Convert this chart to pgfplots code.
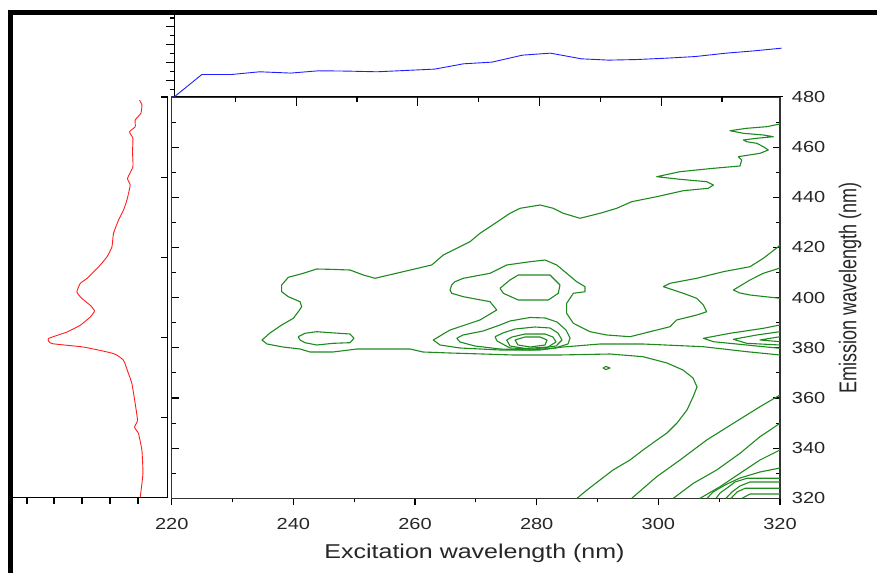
\documentclass[border=0pt]{standalone}
\usepackage{pgfplots}
\pgfplotsset{compat=1.18}
\usepackage{graphicx}
\usepackage{fontspec}
\setmainfont{Liberation Sans}
\definecolor{cg}{RGB}{30,138,30}
\definecolor{cb}{RGB}{30,30,255}
\definecolor{cr}{RGB}{255,30,30}
\newcommand{\sx}[1]{\scalebox{1.25}[1]{#1}}
\pgfplotsset{cl/.style={cg, line width=1.1pt, mark=none, solid, line join=round}}
\begin{document}
\begin{tikzpicture}
% ---------------- main contour axis ----------------
\begin{axis}[
  at={(171.7pt,74.7pt)}, anchor=south west,
  scale only axis, width=608.3pt, height=401.3pt,
  xmin=220, xmax=320, ymin=320, ymax=480,
  axis line style={line width=1.4pt, black!80},
  xtick={220,240,...,320}, minor xtick={230,250,...,310},
  xticklabels={\sx{220},\sx{240},\sx{260},\sx{280},\sx{300},\sx{320}},
  ytick={320,340,...,480}, minor ytick={330,350,...,470},
  yticklabels={\sx{320},\sx{340},\sx{360},\sx{380},\sx{400},\sx{420},\sx{440},\sx{460},\sx{480}},
  xtick pos=left, ytick pos=both, yticklabel pos=right,
  xtick align=outside, ytick align=inside,
  major tick length=7pt, minor tick length=4pt,
  tick style={black, line width=1.1pt},
  xticklabel style={font=\fontsize{16}{16}\selectfont, text=black!85, anchor=north, inner sep=0pt, yshift=-13.2pt},
  yticklabel style={font=\fontsize{16}{16}\selectfont, text=black!85, anchor=west, inner sep=0pt, xshift=11.7pt},
  xlabel={\sx{Excitation wavelength (nm)}},
  xlabel style={font=\fontsize{20}{20}\selectfont, text=black!85, at={(axis description cs:0.4978,0)}, anchor=base, inner sep=0pt, yshift=-59.7pt},
  ylabel={\scalebox{1}[1.35]{Emission wavelength (nm)}},
  ylabel style={font=\fontsize{18}{18}\selectfont, text=black!85, at={(axis description cs:1.115,0.525)}, anchor=center, inner sep=0pt},
]
% level 1 (outer)
\addplot[cl] coordinates {(286.63,320.00) (288.27,323.31) (290.41,327.30) (292.55,331.28) (295.34,335.27) (297.48,339.26) (299.78,343.25) (301.42,346.04) (303.07,350.02) (304.71,355.21) (305.70,360.39) (306.36,364.38) (305.70,367.97) (304.05,371.15) (301.42,373.95) (297.48,376.46) (292.05,377.53) (283.83,377.14) (276.11,377.14) (271.18,377.53) (265.75,377.93) (261.31,378.33) (259.17,379.53) (250.46,379.53) (246.52,378.33) (242.74,378.33) (241.09,379.53) (238.30,380.32) (235.67,381.52) (234.84,383.12) (236.16,385.91) (238.08,389.10) (239.99,391.77) (240.81,394.40) (241.37,396.39) (241.09,398.39) (239.17,400.38) (238.08,402.37) (238.08,405.04) (239.17,408.11) (241.63,409.71) (243.84,411.42) (246.02,411.30) (249.31,411.02) (251.50,409.03) (253.42,407.72) (256.43,409.43) (259.72,411.30) (262.74,413.02) (264.65,417.01) (266.29,419.00) (269.04,422.31) (270.68,425.66) (272.33,428.29) (275.61,433.63) (277.26,435.62) (280.55,436.94) (282.73,435.62) (284.38,433.63) (287.12,431.64) (290.41,433.63) (293.15,435.62) (295.62,438.26) (299.73,440.25) (304.10,442.64) (308.21,443.60) (309.05,444.91) (307.95,446.23) (303.56,447.19) (299.73,448.22) (303.56,450.22) (309.05,451.57) (313.42,452.49) (313.70,454.88) (313.14,456.20) (316.71,457.55) (318.08,458.87) (317.26,460.18) (316.17,461.54) (314.52,462.18) (313.97,462.86) (316.17,463.53) (318.90,464.17) (317.26,464.85) (313.97,465.53) (311.78,466.56) (314.52,467.52) (317.81,468.16) (320.00,469.24)};
% level 2 (open, right edge to right edge)
\addplot[cl] coordinates {(320,377.14) (314.57,378.45) (307.34,380.45) (297.48,381.52) (290.41,381.52) (284.33,380.32) (280.55,379.13) (273.97,379.13) (267.39,379.93) (264.11,381.12) (263.00,383.12) (265.75,387.10) (270.68,391.09) (273.43,395.08) (272.33,398.39) (267.94,400.38) (266.03,401.74) (265.75,403.05) (266.03,405.04) (266.57,406.36) (267.94,407.72) (272.33,409.71) (275.07,413.02) (278.90,414.33) (281.37,415.01) (283.29,413.02) (284.93,409.71) (286.58,406.36) (287.94,404.37) (287.94,402.37) (286.02,401.74) (284.93,397.75) (284.93,393.76) (286.02,389.78) (288.77,386.43) (291.51,385.11) (295.34,384.43) (298.63,386.43) (301.92,388.42) (303.02,391.09) (306.31,393.08) (307.95,394.40) (307.39,397.07) (306.31,399.74) (304.10,401.74) (300.82,404.37) (301.92,405.72) (306.31,407.72) (310.68,410.35) (315.07,412.34) (317.26,415.69) (319.72,420.31) (320,421.0)};
% level 2 loop at 245 nm
\addplot[cl] coordinates {(240.81,384.43) (241.91,385.79) (243.84,386.43) (246.02,386.03) (249.31,385.51) (249.97,383.79) (249.31,382.04) (246.57,381.80) (243.84,381.12) (241.91,382.04) (241.09,383.12) (240.81,384.43)};
% level 3 loop, 400 nm peak
\addplot[cl] coordinates {(273.97,403.73) (275.61,407.04) (276.98,409.03) (282.19,409.03) (283.83,405.04) (283.55,401.74) (281.91,399.06) (276.98,399.06) (274.51,401.74) (273.97,403.73)};
% nested loops, 380 nm peak
\addplot[cl] coordinates {(266.85,383.79) (267.89,385.11) (271.18,386.70) (273.97,389.10) (275.61,390.69) (278.90,392.09) (281.37,391.89) (283.34,390.29) (284.82,387.10) (285.48,383.91) (285.15,381.52) (283.01,379.93) (278.90,379.13) (273.97,379.53) (269.86,380.72) (267.39,382.32) (266.85,383.79)};
\addplot[cl] coordinates {(273.15,384.43) (274.46,385.91) (276.44,387.50) (279.72,388.30) (282.19,387.90) (283.50,385.91) (284.16,383.12) (283.18,380.72) (279.72,379.53) (275.61,379.93) (273.48,382.72) (273.15,384.43)};
\addplot[cl] coordinates {(275.07,383.12) (275.94,384.31) (278.08,385.51) (281.37,385.51) (282.68,384.31) (283.18,382.32) (281.86,380.32) (278.08,379.73) (275.61,380.72) (275.07,383.12)};
\addplot[cl] coordinates {(276.44,383.12) (278.08,384.31) (280.55,384.31) (281.70,383.12) (281.37,381.12) (278.90,380.32) (276.93,381.12) (276.44,383.12)};
% right wedges
\addplot[cl] coordinates {(320,389.10) (317.26,387.78) (311.78,385.79) (307.39,383.79) (309.05,382.44) (317.26,380.45) (320,379.81)};
\addplot[cl] coordinates {(320,386.43) (316.17,385.11) (312.33,383.39) (314.52,381.80) (320,381.12)};
\addplot[cl] coordinates {(320,384.43) (316.71,383.12) (320,382.44)};
\addplot[cl] coordinates {(320,411.82) (317.26,409.71) (315.07,407.04) (312.33,403.05) (313.42,401.85) (315.07,401.06) (320,399.74)};
% tiny loop
\addplot[cl] coordinates {(290.90,371.95) (291.39,372.55) (292.05,371.95) (291.39,371.35) (290.90,371.95)};
% diagonal lines lower right
\addplot[cl] coordinates {(295.62,320.00) (299.73,328.61) (303.56,335.27) (307.95,343.25) (312.33,349.90) (316.71,356.52) (320,361.19)};
\addplot[cl] coordinates {(302.46,320.00) (305.75,325.98) (309.59,331.28) (313.42,337.94) (316.71,344.56) (320,349.90)};
\addplot[cl] coordinates {(306.85,320.00) (310.14,324.63) (313.42,329.97) (316.71,335.27) (320,339.26)};
\addplot[cl] coordinates {(320,332.08) (316.71,330.49) (313.42,328.10) (310.96,325.30) (308.99,322.51) (308.00,320.00)};
\addplot[cl] coordinates {(320,327.98) (314.57,327.98) (312.60,326.50) (311.29,324.11) (310.14,322.11) (309.48,320.00)};
\addplot[cl] coordinates {(320,326.50) (315.07,326.50) (313.42,324.91) (312.10,322.51) (311.12,320.00)};
\addplot[cl] coordinates {(320,323.99) (314.25,323.99) (312.93,322.51) (311.94,320.00)};
\addplot[cl] coordinates {(320,321.72) (315.07,321.72) (313.75,320.00)};
\end{axis}
% ---------------- top panel ----------------
\begin{axis}[
  at={(174.5pt,476.3pt)}, anchor=south west,
  scale only axis, width=608.3pt, height=81.7pt,
  xmin=220, xmax=320, ymin=2, ymax=84,
  axis x line=bottom, axis y line=left,
  axis line style={-, line width=1.2pt, black},
  xtick={240,260,280,300}, minor xtick={230,250,270,290,310},
  ytick={18,36,54,72}, minor ytick={9,27,45,63,81},
  xticklabels={}, yticklabels={},
  tick align=outside, major tick length=9pt, minor tick length=5pt,
  tick style={black, line width=1.1pt},
  clip=false,
]
\addplot[cb, line width=0.9pt, mark=none] coordinates {(220,2) (224.5,24.3) (229.4,24.3) (234,27) (239.1,25.7) (243.7,28) (248.3,27.7) (253.3,27) (257.9,28.3) (262.8,29.7) (267.5,35) (272.2,36.7) (277.2,43.7) (281.8,45.7) (286.9,40) (291.4,38.7) (296,39.3) (301,40.7) (305.6,42.3) (310.7,45.7) (315.3,48) (319.8,50.7)};
\end{axis}
% ---------------- left panel ----------------
\begin{axis}[
  at={(12.5pt,75.5pt)}, anchor=south west,
  scale only axis, width=155pt, height=400.5pt,
  x dir=reverse, xmin=0, xmax=155, ymin=320, ymax=480,
  axis x line=bottom, axis y line=right,
  axis line style={-, line width=1.2pt, black},
  xtick={29.5,57.5,85.5,113.5,140.5}, ytick={320,352,...,480},
  xticklabels={}, yticklabels={},
  xtick align=outside, ytick align=inside, major tick length=6.5pt,
  tick style={black, line width=1.1pt},
  clip=false,
]
\addplot[cr, line width=0.9pt, mark=none, smooth, tension=0.3] coordinates {(28.0,478.8) (25.6,476.8) (26.6,473.5) (32.3,470.8) (32.3,468.1) (38.0,466.1) (34.6,463.5) (35.0,458.1) (34.6,452.1) (40.0,447.5) (37.3,444.8) (40.6,438.8) (44.0,434.8) (49.0,430.8) (54.0,425.5) (55.6,420.1) (60.6,416.1) (69.0,412.1) (80.6,407.5) (87.3,405.5) (90.6,402.1) (85.6,399.5) (77.3,396.8) (73.0,394.5) (77.3,392.1) (87.3,388.8) (100.6,386.1) (119.0,383.5) (115.6,381.5) (84.0,380.1) (54.0,377.5) (44.0,374.8) (39.0,369.5) (35.6,365.5) (32.3,357.5) (30.0,350.8) (33.0,348.1) (29.0,345.5) (25.6,338.8) (24.6,329.5) (27.3,320.1)};
\end{axis}
% outer frame
\draw[line width=5pt, line join=miter, black] (10pt,0pt) -- (10pt,560.5pt) -- (877pt,560.5pt);
\pgfresetboundingbox
\useasboundingbox (0pt,0pt) rectangle (877pt,573pt);
\end{tikzpicture}
\end{document}
